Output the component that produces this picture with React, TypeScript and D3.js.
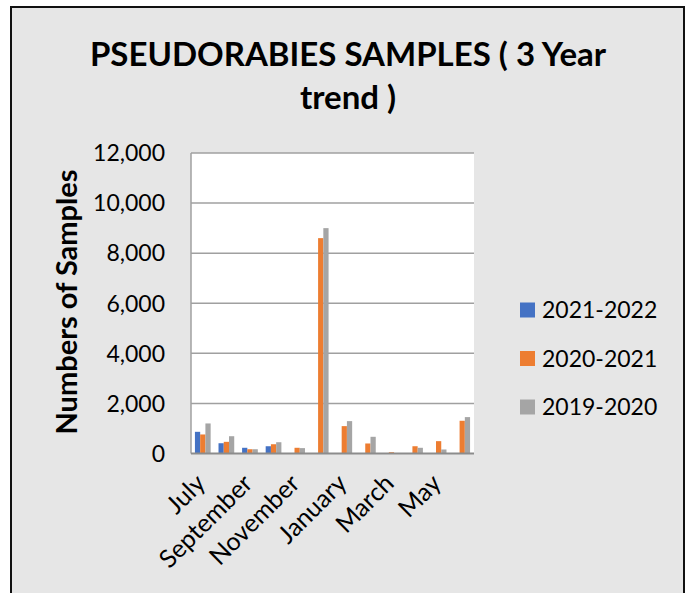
import React, { useEffect, useRef } from "react";
import * as d3 from "d3";

const months = [
  "July", "August", "September", "October", "November", "December",
  "January", "February", "March", "April", "May", "June",
];
const seriesNames = ["2021-2022", "2020-2021", "2019-2020"];
const s2122 = [866, 410, 228, 290, 0, 0, 0, 0, 0, 0, 0, 0];
const s2021 = [760, 466, 170, 370, 228, 8600, 1093, 400, 50, 290, 493, 1307];
const s1920 = [1200, 690, 170, 450, 215, 9000, 1293, 667, 10, 228, 160, 1453];
const colors = ["#4472C4", "#ED7D31", "#A5A5A5"];
const yTicks = [0, 2000, 4000, 6000, 8000, 10000, 12000];
const shownLabels = ["July", "September", "November", "January", "March", "May"];

const FONT = "Lato, 'Open Sans', sans-serif";

const App: React.FC = () => {
  const svgRef = useRef<SVGSVGElement | null>(null);

  useEffect(() => {
    const width = 691;
    const height = 593;
    const plotLeft = 191;
    const plotRight = 474;
    const plotTop = 153;
    const plotBottom = 453.5;

    const series = [s2122, s2021, s1920];

    const svg = d3.select(svgRef.current);
    svg.selectAll("*").remove();
    svg.attr("width", width).attr("height", height).attr("viewBox", [0, 0, width, height]);

    // chart frame
    svg.append("rect").attr("width", width).attr("height", height).attr("fill", "#fff");
    svg
      .append("rect")
      .attr("x", 11)
      .attr("y", 7)
      .attr("width", 673)
      .attr("height", 600)
      .attr("fill", "#e6e6e6")
      .attr("stroke", "#111")
      .attr("stroke-width", 2);

    const x0 = d3
      .scaleBand()
      .domain(months)
      .range([plotLeft, plotRight])
      .paddingInner(1 / 3)
      .paddingOuter(1 / 6);

    const x1 = d3
      .scaleBand()
      .domain(seriesNames)
      .range([0, x0.bandwidth()]);

    const y = d3.scaleLinear().domain([0, 12000]).range([plotBottom, plotTop]);

    // plot area
    svg
      .append("rect")
      .attr("x", plotLeft)
      .attr("y", plotTop)
      .attr("width", plotRight - plotLeft)
      .attr("height", plotBottom - plotTop)
      .attr("fill", "#fff");

    // gridlines
    svg
      .append("g")
      .selectAll("line")
      .data(yTicks.slice(1))
      .join("line")
      .attr("x1", plotLeft)
      .attr("x2", plotRight)
      .attr("y1", (d) => y(d))
      .attr("y2", (d) => y(d))
      .attr("stroke", "#a0a0a0")
      .attr("stroke-width", 1.5);

    // left axis line
    svg
      .append("line")
      .attr("x1", plotLeft)
      .attr("x2", plotLeft)
      .attr("y1", plotTop)
      .attr("y2", plotBottom)
      .attr("stroke", "#a0a0a0")
      .attr("stroke-width", 1.5);

    // bars
    const groups = svg
      .append("g")
      .selectAll("g")
      .data(months)
      .join("g")
      .attr("transform", (m) => `translate(${x0(m)},0)`);

    groups
      .selectAll("rect")
      .data((_, i) => series.map((s, k) => ({ key: seriesNames[k], value: s[i], k })))
      .join("rect")
      .attr("x", (d) => x1(d.key) as number)
      .attr("y", (d) => y(d.value))
      .attr("width", x1.bandwidth())
      .attr("height", (d) => y(0) - y(d.value))
      .attr("fill", (d) => colors[d.k]);

    // bottom axis line
    svg
      .append("line")
      .attr("x1", plotLeft)
      .attr("x2", plotRight)
      .attr("y1", plotBottom)
      .attr("y2", plotBottom)
      .attr("stroke", "#8c8c8c")
      .attr("stroke-width", 2);

    // y tick labels
    svg
      .append("g")
      .selectAll("text")
      .data(yTicks)
      .join("text")
      .attr("x", 165)
      .attr("y", (d) => y(d))
      .attr("dy", "0.36em")
      .attr("text-anchor", "end")
      .attr("font-family", FONT)
      .attr("font-size", 23)
      .attr("fill", "#000")
      .text((d) => d3.format(",")(d));

    // x tick labels
    svg
      .append("g")
      .selectAll("text")
      .data(shownLabels)
      .join("text")
      .attr(
        "transform",
        (m) => `translate(${(x0(m) as number) + x0.bandwidth() / 2 + 4},485) rotate(-45)`,
      )
      .attr("text-anchor", "end")
      .attr("font-family", FONT)
      .attr("font-size", 25)
      .attr("fill", "#000")
      .text((m) => m);

    // y axis title
    svg
      .append("text")
      .attr("transform", `translate(77,302) rotate(-90)`)
      .attr("text-anchor", "middle")
      .attr("font-family", FONT)
      .attr("font-weight", "bold")
      .attr("font-size", 29)
      .attr("fill", "#000")
      .text("Numbers of Samples");

    // title
    const title = svg
      .append("text")
      .attr("text-anchor", "middle")
      .attr("font-family", FONT)
      .attr("font-weight", "bold")
      .attr("font-size", 33)
      .attr("fill", "#000");
    title.append("tspan").attr("x", 348).attr("y", 66).text("PSEUDORABIES SAMPLES ( 3 Year");
    title.append("tspan").attr("x", 348).attr("y", 109).text("trend )");

    // legend
    const legend = svg
      .append("g")
      .selectAll("g")
      .data(seriesNames)
      .join("g")
      .attr("transform", (_, i) => `translate(520,${310 + i * 48.5})`);
    legend
      .append("rect")
      .attr("x", 0)
      .attr("y", -7.5)
      .attr("width", 15)
      .attr("height", 15)
      .attr("fill", (_, i) => colors[i]);
    legend
      .append("text")
      .attr("x", 22)
      .attr("y", 0)
      .attr("dy", "0.36em")
      .attr("font-family", FONT)
      .attr("font-size", 23)
      .attr("fill", "#000")
      .text((d) => d);
  }, []);

  return (
    <div style={{ position: "absolute", left: 0, top: 0 }}>
      <svg ref={svgRef} style={{ display: "block" }}></svg>
    </div>
  );
};

export default App;
